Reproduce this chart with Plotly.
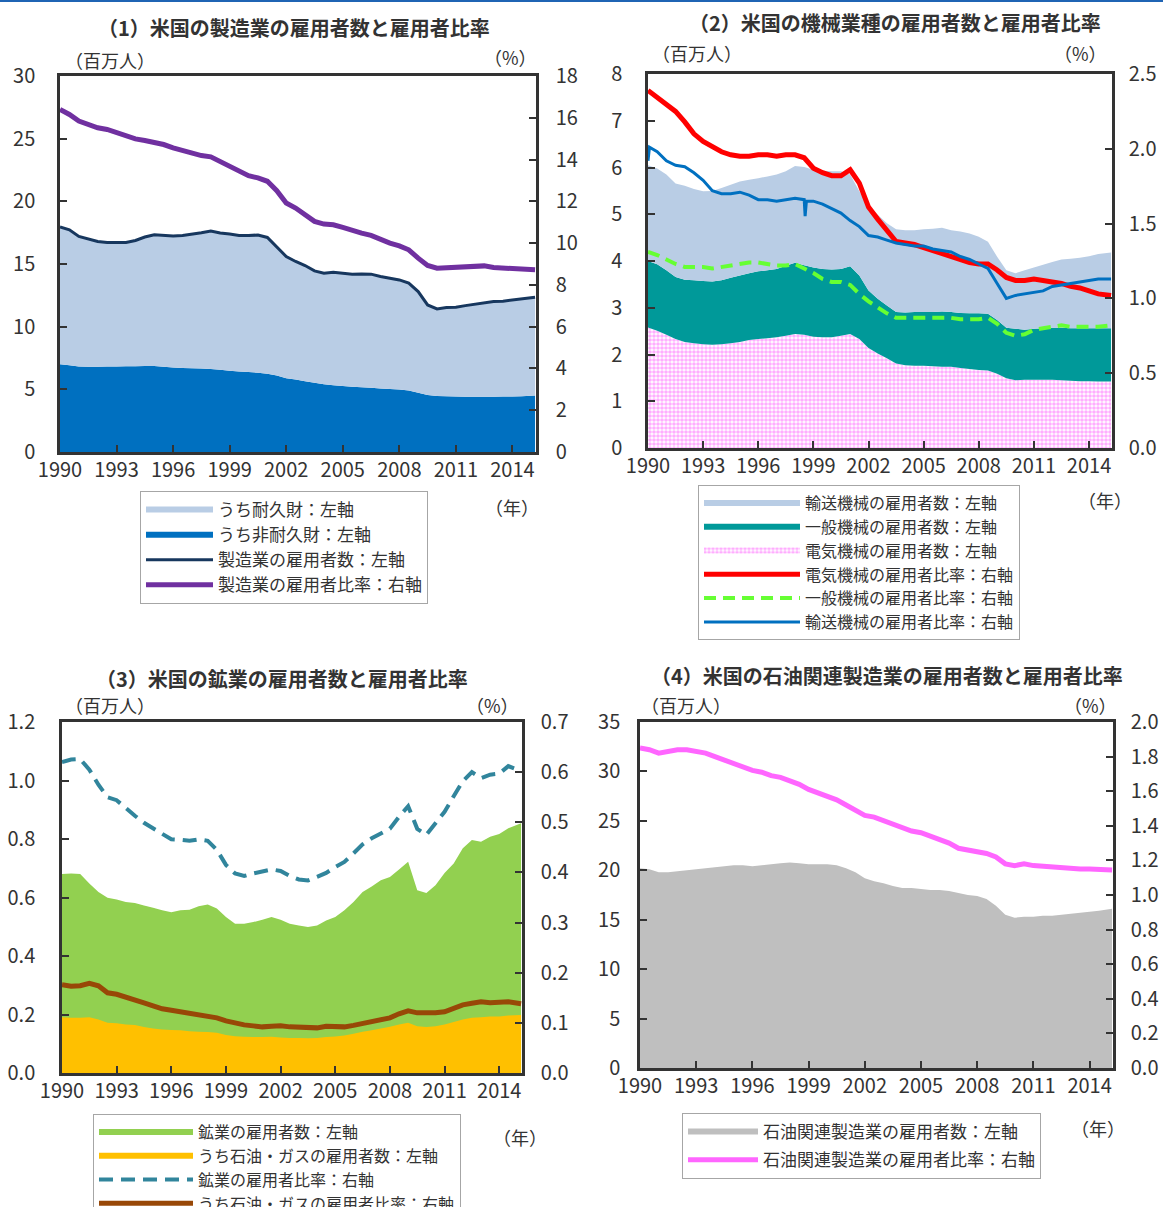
import plotly.graph_objects as go

# ---------------------------------------------------------------------------
# Time axis: half-year observations, last point = latest available month
# ---------------------------------------------------------------------------
periods = [1990 + 0.5 * k for k in range(50)] + [2015.2]
year_ticks = [1990, 1993, 1996, 1999, 2002, 2005, 2008, 2011, 2014]

# (1) Manufacturing: employees (million) and share of total employment (%)
mfg_total = [17.95, 17.73, 17.20, 17.01, 16.80, 16.72, 16.75, 16.72, 16.88, 17.15,
             17.33, 17.28, 17.23, 17.28, 17.36, 17.49, 17.63, 17.47, 17.39, 17.28,
             17.28, 17.31, 17.12, 16.40, 15.60, 15.20, 14.88, 14.45, 14.27, 14.35,
             14.27, 14.19, 14.21, 14.19, 14.00, 13.87, 13.73, 13.47, 12.80, 11.73,
             11.41, 11.52, 11.55, 11.68, 11.79, 11.95, 12.00, 12.03, 12.11, 12.19,
             12.35]
mfg_nondurable = [7.00, 6.92, 6.82, 6.80, 6.80, 6.82, 6.83, 6.84, 6.85, 6.87,
                  6.86, 6.80, 6.74, 6.70, 6.68, 6.66, 6.63, 6.56, 6.48, 6.42,
                  6.38, 6.33, 6.25, 6.10, 5.88, 5.78, 5.65, 5.52, 5.40, 5.33,
                  5.27, 5.21, 5.16, 5.12, 5.07, 5.03, 4.98, 4.90, 4.72, 4.55,
                  4.47, 4.44, 4.42, 4.40, 4.40, 4.40, 4.41, 4.42, 4.43, 4.45,
                  4.50]
mfg_ratio = [16.40, 16.16, 15.84, 15.68, 15.52, 15.44, 15.28, 15.17, 14.99, 14.91,
             14.83, 14.72, 14.56, 14.43, 14.30, 14.19, 14.13, 13.92, 13.68, 13.44,
             13.23, 13.12, 12.96, 12.51, 11.92, 11.68, 11.36, 11.04, 10.91, 10.88,
             10.75, 10.59, 10.48, 10.37, 10.16, 10.00, 9.87, 9.68, 9.28, 8.93,
             8.80, 8.83, 8.85, 8.88, 8.88, 8.91, 8.83, 8.80, 8.78, 8.77,
             8.72]
mfg_durable = [t - n for t, n in zip(mfg_total, mfg_nondurable)]

# (2) Machinery industries: employees (million, stacked) and shares (%)
elec_emp = [2.58, 2.51, 2.42, 2.33, 2.27, 2.24, 2.22, 2.21, 2.22, 2.24,
            2.27, 2.31, 2.33, 2.35, 2.37, 2.40, 2.44, 2.42, 2.38, 2.37,
            2.37, 2.40, 2.44, 2.33, 2.14, 2.02, 1.92, 1.81, 1.77, 1.76,
            1.76, 1.75, 1.74, 1.74, 1.71, 1.69, 1.67, 1.66, 1.59, 1.49,
            1.45, 1.46, 1.46, 1.46, 1.46, 1.45, 1.44, 1.43, 1.43, 1.42,
            1.42]
general_emp = [1.42, 1.42, 1.38, 1.33, 1.33, 1.35, 1.35, 1.35, 1.37, 1.40,
               1.42, 1.43, 1.45, 1.45, 1.46, 1.50, 1.52, 1.49, 1.48, 1.46,
               1.45, 1.43, 1.45, 1.36, 1.23, 1.17, 1.13, 1.10, 1.13, 1.15,
               1.15, 1.16, 1.18, 1.17, 1.18, 1.19, 1.21, 1.21, 1.15, 1.08,
               1.10, 1.07, 1.09, 1.10, 1.11, 1.12, 1.12, 1.13, 1.13, 1.14,
               1.14]
transport_emp = [2.05, 2.05, 2.05, 2.00, 2.01, 1.95, 1.92, 1.94, 1.97, 1.99,
                 2.01, 2.00, 1.99, 2.01, 2.02, 2.02, 2.07, 2.10, 2.09, 2.10,
                 2.10, 2.09, 1.96, 1.80, 1.79, 1.80, 1.76, 1.77, 1.76, 1.75,
                 1.77, 1.78, 1.79, 1.75, 1.74, 1.71, 1.64, 1.54, 1.35, 1.23,
                 1.19, 1.27, 1.31, 1.36, 1.41, 1.46, 1.49, 1.51, 1.54, 1.59,
                 1.62]
elec_ratio = [2.39, 2.34, 2.30, 2.25, 2.18, 2.10, 2.05, 2.01, 1.98, 1.96,
              1.95, 1.95, 1.96, 1.96, 1.95, 1.96, 1.96, 1.94, 1.87, 1.84,
              1.82, 1.82, 1.86, 1.77, 1.61, 1.53, 1.45, 1.38, 1.37, 1.36,
              1.34, 1.32, 1.30, 1.28, 1.26, 1.24, 1.23, 1.23, 1.19, 1.14,
              1.12, 1.12, 1.13, 1.12, 1.11, 1.10, 1.08, 1.07, 1.05, 1.03,
              1.02]
general_ratio = [1.31, 1.29, 1.26, 1.23, 1.21, 1.21, 1.21, 1.20, 1.21, 1.22,
                 1.23, 1.24, 1.24, 1.23, 1.22, 1.22, 1.23, 1.20, 1.17, 1.13,
                 1.11, 1.11, 1.09, 1.03, 0.98, 0.94, 0.90, 0.87, 0.87, 0.87,
                 0.87, 0.87, 0.87, 0.87, 0.86, 0.86, 0.86, 0.87, 0.83, 0.77,
                 0.75, 0.76, 0.79, 0.80, 0.81, 0.82, 0.81, 0.81, 0.81, 0.81,
                 0.82]
transport_ratio = [1.92, 1.98, 1.92, 1.89, 1.88, 1.84, 1.79, 1.72, 1.70, 1.70,
                   1.71, 1.69, 1.66, 1.66, 1.65, 1.66, 1.67, 1.66, 1.65, 1.63,
                   1.60, 1.57, 1.52, 1.48, 1.42, 1.41, 1.39, 1.37, 1.36, 1.35,
                   1.35, 1.33, 1.32, 1.31, 1.28, 1.26, 1.23, 1.20, 1.10, 1.00,
                   1.02, 1.03, 1.04, 1.05, 1.08, 1.09, 1.10, 1.11, 1.12, 1.13,
                   1.13]
# monthly readings around the early-1990 jump and the 1998 strike dip
transport_ratio_extra_periods = [1990.08, 1998.55, 1998.62]
transport_ratio_extra = [2.01, 1.55, 1.65]

# (3) Mining: employees (million) and shares (%)
mining_emp = [0.680, 0.682, 0.680, 0.648, 0.619, 0.599, 0.593, 0.585, 0.581, 0.573,
              0.565, 0.556, 0.550, 0.556, 0.558, 0.570, 0.576, 0.562, 0.533, 0.510,
              0.510, 0.516, 0.524, 0.533, 0.524, 0.510, 0.504, 0.499, 0.504, 0.521,
              0.533, 0.556, 0.585, 0.619, 0.638, 0.659, 0.670, 0.696, 0.722, 0.625,
              0.615, 0.642, 0.684, 0.716, 0.768, 0.797, 0.791, 0.808, 0.817, 0.837,
              0.854]
oilgas_emp = [0.191, 0.189, 0.189, 0.191, 0.183, 0.172, 0.170, 0.166, 0.164, 0.157,
              0.152, 0.149, 0.147, 0.146, 0.143, 0.141, 0.140, 0.138, 0.130, 0.126,
              0.124, 0.123, 0.123, 0.124, 0.121, 0.120, 0.120, 0.119, 0.120, 0.123,
              0.125, 0.128, 0.134, 0.141, 0.146, 0.152, 0.158, 0.166, 0.172, 0.160,
              0.157, 0.160, 0.166, 0.174, 0.183, 0.189, 0.191, 0.193, 0.193, 0.197,
              0.198]
mining_ratio = [0.620, 0.625, 0.626, 0.605, 0.575, 0.550, 0.544, 0.528, 0.513, 0.499,
                0.488, 0.475, 0.466, 0.465, 0.463, 0.466, 0.463, 0.445, 0.415, 0.398,
                0.393, 0.398, 0.403, 0.406, 0.403, 0.393, 0.386, 0.384, 0.391, 0.399,
                0.411, 0.421, 0.438, 0.456, 0.468, 0.478, 0.487, 0.511, 0.532, 0.487,
                0.475, 0.498, 0.521, 0.552, 0.582, 0.600, 0.588, 0.595, 0.597, 0.612,
                0.602]
oilgas_ratio = [0.176, 0.173, 0.174, 0.179, 0.174, 0.160, 0.157, 0.152, 0.147, 0.140,
                0.134, 0.128, 0.125, 0.122, 0.119, 0.116, 0.114, 0.110, 0.104, 0.099,
                0.096, 0.094, 0.092, 0.093, 0.094, 0.092, 0.092, 0.092, 0.090, 0.093,
                0.092, 0.092, 0.095, 0.099, 0.102, 0.105, 0.110, 0.118, 0.124, 0.120,
                0.119, 0.120, 0.122, 0.130, 0.136, 0.139, 0.142, 0.140, 0.140, 0.142,
                0.138]

# (4) Petroleum-related manufacturing
petro_emp = [20.2, 20.1, 19.8, 19.8, 19.9, 20.0, 20.1, 20.2, 20.3, 20.4,
             20.5, 20.5, 20.4, 20.5, 20.6, 20.7, 20.8, 20.7, 20.6, 20.6,
             20.6, 20.5, 20.2, 19.8, 19.2, 18.9, 18.7, 18.4, 18.2, 18.2,
             18.1, 18.0, 18.0, 17.9, 17.7, 17.5, 17.4, 17.1, 16.4, 15.5,
             15.2, 15.3, 15.3, 15.4, 15.4, 15.5, 15.6, 15.7, 15.8, 15.9,
             16.1]
petro_ratio = [1.85, 1.84, 1.82, 1.83, 1.84, 1.84, 1.83, 1.82, 1.80, 1.78,
               1.76, 1.74, 1.72, 1.71, 1.69, 1.68, 1.66, 1.64, 1.61, 1.59,
               1.57, 1.55, 1.52, 1.49, 1.46, 1.45, 1.43, 1.41, 1.39, 1.37,
               1.36, 1.34, 1.32, 1.30, 1.27, 1.26, 1.25, 1.24, 1.22, 1.18,
               1.17, 1.18, 1.17, 1.165, 1.16, 1.16, 1.155, 1.15, 1.15, 1.15,
               1.145]

# ---------------------------------------------------------------------------
W, H = 1163, 1207
FONT_JP = "Noto Sans CJK JP"
FONT_NUM = "Noto Sans CJK JP"
INK = "#333333"


def px_x(v):
    return v / W


def px_y(v):
    return 1 - v / H


def merge_points(xs, ys, extra_x, extra_y):
    pts = sorted(zip(list(xs) + list(extra_x), list(ys) + list(extra_y)))
    return [p[0] for p in pts], [p[1] for p in pts]


tr_x, tr_y = merge_points(periods, transport_ratio,
                          transport_ratio_extra_periods, transport_ratio_extra)

fig = go.Figure()

# ---- panel 1 ----
fig.add_trace(go.Scatter(x=periods, y=mfg_nondurable, name="うち非耐久財：左軸",
                         stackgroup="mfg", mode="none", fillcolor="#0070c0",
                         xaxis="x", yaxis="y", legend="legend", legendrank=2))
fig.add_trace(go.Scatter(x=periods, y=mfg_durable, name="うち耐久財：左軸",
                         stackgroup="mfg", mode="none", fillcolor="#b9cde5",
                         xaxis="x", yaxis="y", legend="legend", legendrank=1))
fig.add_trace(go.Scatter(x=periods, y=mfg_total, name="製造業の雇用者数：左軸",
                         mode="lines", line=dict(color="#17375e", width=3),
                         xaxis="x", yaxis="y", legend="legend", legendrank=3))
fig.add_trace(go.Scatter(x=periods, y=mfg_ratio, name="製造業の雇用者比率：右軸",
                         mode="lines", line=dict(color="#7030a0", width=5),
                         xaxis="x", yaxis="y2", legend="legend", legendrank=4))

# ---- panel 2 ----
fig.add_trace(go.Scatter(x=periods, y=elec_emp, name="電気機械の雇用者数：左軸",
                         stackgroup="mach", mode="none",
                         fillpattern=dict(shape=".", fgcolor="#ff5cff", bgcolor="#ffffff",
                                          size=4, solidity=0.65),
                         xaxis="x2", yaxis="y3", legend="legend2", legendrank=3))
fig.add_trace(go.Scatter(x=periods, y=general_emp, name="一般機械の雇用者数：左軸",
                         stackgroup="mach", mode="none", fillcolor="#009999",
                         xaxis="x2", yaxis="y3", legend="legend2", legendrank=2))
fig.add_trace(go.Scatter(x=periods, y=transport_emp, name="輸送機械の雇用者数：左軸",
                         stackgroup="mach", mode="none", fillcolor="#b9cde5",
                         xaxis="x2", yaxis="y3", legend="legend2", legendrank=1))
fig.add_trace(go.Scatter(x=periods, y=elec_ratio, name="電気機械の雇用者比率：右軸",
                         mode="lines", line=dict(color="#ff0000", width=5),
                         xaxis="x2", yaxis="y4", legend="legend2", legendrank=4))
fig.add_trace(go.Scatter(x=periods, y=general_ratio, name="一般機械の雇用者比率：右軸",
                         mode="lines", line=dict(color="#66ff33", width=4, dash="12px,7px"),
                         xaxis="x2", yaxis="y4", legend="legend2", legendrank=5))
fig.add_trace(go.Scatter(x=tr_x, y=tr_y, name="輸送機械の雇用者比率：右軸",
                         mode="lines", line=dict(color="#0070c0", width=3),
                         xaxis="x2", yaxis="y4", legend="legend2", legendrank=6))

# ---- panel 3 ----
fig.add_trace(go.Scatter(x=periods, y=mining_emp, name="鉱業の雇用者数：左軸",
                         fill="tozeroy", mode="none", fillcolor="#92d050",
                         xaxis="x3", yaxis="y5", legend="legend3", legendrank=1))
fig.add_trace(go.Scatter(x=periods, y=oilgas_emp, name="うち石油・ガスの雇用者数：左軸",
                         fill="tozeroy", mode="none", fillcolor="#ffc000",
                         xaxis="x3", yaxis="y5", legend="legend3", legendrank=2))
fig.add_trace(go.Scatter(x=periods, y=mining_ratio, name="鉱業の雇用者比率：右軸",
                         mode="lines", line=dict(color="#31859c", width=4, dash="14px,8px"),
                         xaxis="x3", yaxis="y6", legend="legend3", legendrank=3))
fig.add_trace(go.Scatter(x=periods, y=oilgas_ratio, name="うち石油・ガスの雇用者比率：右軸",
                         mode="lines", line=dict(color="#984807", width=5),
                         xaxis="x3", yaxis="y6", legend="legend3", legendrank=4))

# ---- panel 4 ----
fig.add_trace(go.Scatter(x=periods, y=petro_emp, name="石油関連製造業の雇用者数：左軸",
                         fill="tozeroy", mode="none", fillcolor="#bfbfbf",
                         legendgroup="petro_emp",
                         xaxis="x4", yaxis="y7", legend="legend4", legendrank=1))
fig.add_trace(go.Scatter(x=periods, y=petro_ratio, name="石油関連製造業の雇用者比率：右軸",
                         mode="lines", line=dict(color="#ff66ff", width=5),
                         legendgroup="petro_ratio",
                         xaxis="x4", yaxis="y8", legend="legend4", legendrank=2))

# ---------------------------------------------------------------------------
# Axes
# ---------------------------------------------------------------------------
tick_font = dict(family=FONT_NUM, size=20, color=INK)


def x_axis(left, right, yname):
    return dict(domain=[px_x(left), px_x(right)], anchor=yname,
                range=[1990, 2015.25], tickvals=year_ticks,
                ticks="inside", ticklen=7, tickwidth=2, tickcolor=INK,
                showline=True, linewidth=2.5, linecolor=INK, mirror=True,
                showgrid=False, zeroline=False, tickfont=tick_font,
                ticklabelstandoff=-2, fixedrange=True)


def y_axis(top, bottom, xname, rng, dtick, fmt, side="left", over=None, standoff=16):
    ax = dict(anchor=xname, range=rng, dtick=dtick, tick0=0, tickformat=fmt,
              ticks="inside", ticklen=7, tickwidth=2, tickcolor=INK,
              showline=True, linewidth=2.5, linecolor=INK,
              showgrid=False, zeroline=False, tickfont=tick_font, side=side,
              ticklabelstandoff=standoff, fixedrange=True)
    if over is None:
        ax["domain"] = [px_y(bottom), px_y(top)]
    else:
        ax["overlaying"] = over
    return ax


P1 = dict(l=60, r=536, t=76, b=452)
P2 = dict(l=648, r=1112, t=74, b=448)
P3 = dict(l=62, r=522, t=722, b=1073)
P4 = dict(l=640, r=1113, t=722, b=1068)

layout_axes = dict(
    xaxis=x_axis(P1["l"], P1["r"], "y"),
    yaxis=y_axis(P1["t"], P1["b"], "x", [0, 30], 5, "d", standoff=18),
    yaxis2=y_axis(P1["t"], P1["b"], "x", [0, 18], 2, "d", side="right", over="y", standoff=13),
    xaxis2=x_axis(P2["l"], P2["r"], "y3"),
    yaxis3=y_axis(P2["t"], P2["b"], "x2", [0, 8], 1, "d", standoff=19),
    yaxis4=y_axis(P2["t"], P2["b"], "x2", [0, 2.5], 0.5, ".1f", side="right", over="y3", standoff=10),
    xaxis3=x_axis(P3["l"], P3["r"], "y5"),
    yaxis5=y_axis(P3["t"], P3["b"], "x3", [0, 1.2], 0.2, ".1f", standoff=20),
    yaxis6=y_axis(P3["t"], P3["b"], "x3", [0, 0.7], 0.1, ".1f", side="right", over="y5", standoff=12),
    xaxis4=x_axis(P4["l"], P4["r"], "y7"),
    yaxis7=y_axis(P4["t"], P4["b"], "x4", [0, 35], 5, "d", standoff=13),
    yaxis8=y_axis(P4["t"], P4["b"], "x4", [0, 2.0], 0.2, ".1f", side="right", over="y7", standoff=11),
)

# ---------------------------------------------------------------------------
# Legends
# ---------------------------------------------------------------------------
def legend_box(left, top, symbol_w, size=17, order="normal", gap=0):
    return dict(x=px_x(left), y=px_y(top), xanchor="left", yanchor="top",
                bgcolor="#ffffff", bordercolor="#a6a6a6", borderwidth=1,
                font=dict(family=FONT_JP, size=size, color=INK),
                traceorder=order, itemwidth=symbol_w, tracegroupgap=gap,
                itemclick=False, itemdoubleclick=False)


# ---------------------------------------------------------------------------
# Text: titles, units, year marks
# ---------------------------------------------------------------------------
def note(text, x, y, size=17, bold=False, anchor="center"):
    return dict(text=f"<b>{text}</b>" if bold else text,
                x=px_x(x), y=px_y(y), xref="paper", yref="paper",
                xanchor=anchor, yanchor="middle", showarrow=False,
                font=dict(family=FONT_JP, size=size, color=INK))


annotations = [
    note("（1）米国の製造業の雇用者数と雇用者比率", 294, 27, 20, True),
    note("（2）米国の機械業種の雇用者数と雇用者比率", 895, 22, 20, True),
    note("（3）米国の鉱業の雇用者数と雇用者比率", 282, 678, 20, True),
    note("（4）米国の石油関連製造業の雇用者数と雇用者比率", 887, 676, 20, True),
    note("（百万人）", 110, 60, 18), note("（%）", 510, 57, 18),
    note("（百万人）", 697, 53, 18), note("（%）", 1080, 53, 18),
    note("（百万人）", 110, 705, 18), note("（%）", 492, 705, 18),
    note("（百万人）", 686, 705, 18), note("（%）", 1090, 705, 18),
    note("（年）", 512, 507, 18), note("（年）", 1105, 500, 18),
    note("（年）", 520, 1137, 18), note("（年）", 1098, 1128, 18),
]

fig.update_layout(
    width=W, height=H,
    margin=dict(l=0, r=0, t=0, b=0, autoexpand=False),
    paper_bgcolor="#ffffff", plot_bgcolor="rgba(0,0,0,0)",
    font=dict(family=FONT_JP, color=INK),
    showlegend=True,
    legend=legend_box(140, 491, 67, size=17),
    legend2=legend_box(698, 485, 96, size=16),
    legend3=legend_box(93, 1114, 94, size=16),
    legend4=legend_box(682, 1113, 70, size=17, order="grouped", gap=3),
    annotations=annotations,
    shapes=[dict(type="line", xref="paper", yref="paper", x0=0, x1=1,
                 y0=px_y(1), y1=px_y(1), line=dict(color="#1f64b4", width=2))],
    **layout_axes,
)

fig.write_html("out.html")
